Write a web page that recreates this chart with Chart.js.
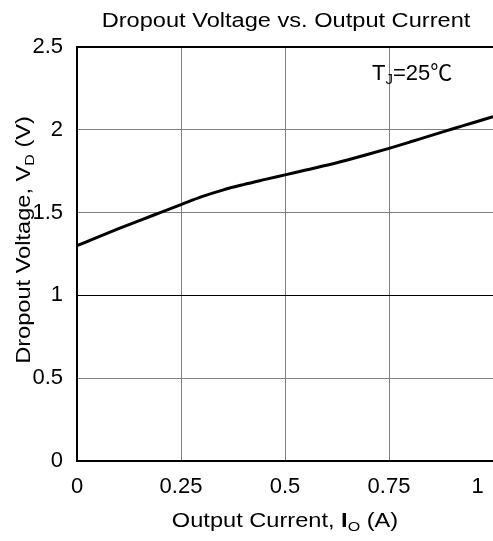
<!DOCTYPE html>
<html>
<head>
<meta charset="utf-8">
<script src="https://cdn.jsdelivr.net/npm/chart.js@4.4.1/dist/chart.umd.min.js"></script>
<style>
  html, body { margin: 0; padding: 0; background: #fff; overflow: hidden; }
  #wrap { width: 493px; height: 541px; position: relative; }
</style>
</head>
<body>
<div id="wrap"><canvas id="dropoutChart"></canvas></div>
<script>
// Valores (corrente em A, tensão em V)
const correnteA = [0, 0.05, 0.1, 0.15, 0.2, 0.25, 0.3, 0.35, 0.4, 0.45, 0.5,
                   0.55, 0.6, 0.65, 0.7, 0.75, 0.8, 0.85, 0.9, 0.95, 1.0];
const tensaoV = [1.30, 1.352, 1.403, 1.452, 1.50, 1.548, 1.596, 1.636, 1.669, 1.699, 1.728,
                 1.757, 1.786, 1.818, 1.852, 1.888, 1.926, 1.965, 2.003, 2.041, 2.079];
const ticksX = [0, 0.25, 0.5, 0.75, 1];
const ticksY = [0, 0.5, 1, 1.5, 2, 2.5];

const FONT = "Arial, 'Liberation Sans', Helvetica, sans-serif";
const ESTICA = 1.18; // o texto do original é levemente esticado na horizontal

// Desenha texto com trechos em subscrito / negrito
function drawRuns(ctx, runs, x, y, size, align, stretch) {
  const sx = stretch || 1;
  const fontFor = (r) => {
    const s = r.sub ? size * 0.68 : size;
    return (r.bold ? 'bold ' : '') + s + 'px ' + (r.family || FONT);
  };
  let total = 0;
  runs.forEach(r => { ctx.font = fontFor(r); total += ctx.measureText(r.t).width; });
  ctx.save();
  ctx.translate(x, y);
  ctx.scale(sx, 1);
  let cx = align === 'center' ? -total / 2 : (align === 'right' ? -total : 0);
  ctx.textAlign = 'left';
  ctx.textBaseline = 'alphabetic';
  runs.forEach(r => {
    ctx.font = fontFor(r);
    ctx.fillText(r.t, cx, r.sub ? size * 0.2 : 0);
    cx += ctx.measureText(r.t).width;
  });
  ctx.restore();
}

const textosPlugin = {
  id: 'textos',
  afterDraw(chart) {
    const ctx = chart.ctx;
    ctx.save();
    ctx.fillStyle = '#000';

    // Título
    drawRuns(ctx, [{ t: 'Dropout Voltage vs. Output Current' }], 286, 27, 20, 'center', ESTICA);

    // Título do eixo X
    drawRuns(ctx, [
      { t: 'Output Current, ' },
      { t: 'I', bold: true },
      { t: 'O', sub: true },
      { t: ' (A)' }
    ], 285, 527, 20, 'center', ESTICA);

    // Anotação da temperatura
    drawRuns(ctx, [
      { t: 'T' },
      { t: 'J', sub: true },
      { t: '=25' },
      { t: '\u2103', family: "'Noto Sans CJK SC', 'DejaVu Sans', sans-serif" }
    ], 372, 80, 22, 'left', 1);

    // Título do eixo Y (rotacionado)
    ctx.save();
    ctx.translate(30, 240);
    ctx.rotate(-Math.PI / 2);
    drawRuns(ctx, [
      { t: 'Dropout Voltage, V' },
      { t: 'D', sub: true },
      { t: ' (V)' }
    ], 0, 0, 20, 'center', ESTICA);
    ctx.restore();

    ctx.restore();
  }
};

const ctx = document.getElementById('dropoutChart');

new Chart(ctx, {
  type: 'line',
  data: {
    datasets: [{
      data: correnteA.map((x, i) => ({ x: x, y: tensaoV[i] })),
      borderColor: '#000',
      borderWidth: 3,
      pointRadius: 0,
      cubicInterpolationMode: 'monotone',
      fill: false
    }]
  },
  options: {
    responsive: true,
    maintainAspectRatio: false,
    animation: false,
    layout: { padding: { top: 47, right: 0, bottom: 0, left: 0 } },
    plugins: {
      legend: { display: false },
      tooltip: { enabled: false },
      title: { display: false }
    },
    scales: {
      x: {
        type: 'linear',
        min: 0,
        max: 1,
        afterBuildTicks: (scale) => { scale.ticks = ticksX.map(v => ({ value: v })); },
        afterFit: (scale) => { scale.height = 80; scale.paddingRight = 0; scale.paddingLeft = 0; },
        ticks: {
          color: '#000',
          font: { family: FONT, size: 22 },
          padding: 13,
          maxRotation: 0,
          autoSkip: false,
          // o "1" do original fica recuado da borda direita
          callback: (v) => (v === 1 ? '1     ' : String(v))
        },
        grid: {
          color: '#808080',
          lineWidth: 1,
          drawTicks: false
        },
        border: { color: '#000', width: 2 }
      },
      y: {
        min: 0,
        max: 2.5,
        afterBuildTicks: (scale) => { scale.ticks = ticksY.map(v => ({ value: v })); },
        afterFit: (scale) => { scale.width = 77; },
        ticks: {
          color: '#000',
          font: { family: FONT, size: 22 },
          padding: 14,
          autoSkip: false,
          callback: (v) => String(v)
        },
        grid: {
          color: (c) => (c.tick && (c.tick.value === 1 || c.tick.value === 2.5) ? '#000' : '#808080'),
          lineWidth: (c) => (c.tick && c.tick.value === 2.5 ? 2 : 1),
          drawTicks: false
        },
        border: { color: '#000', width: 2 }
      }
    }
  },
  plugins: [textosPlugin]
});
</script>
</body>
</html>
